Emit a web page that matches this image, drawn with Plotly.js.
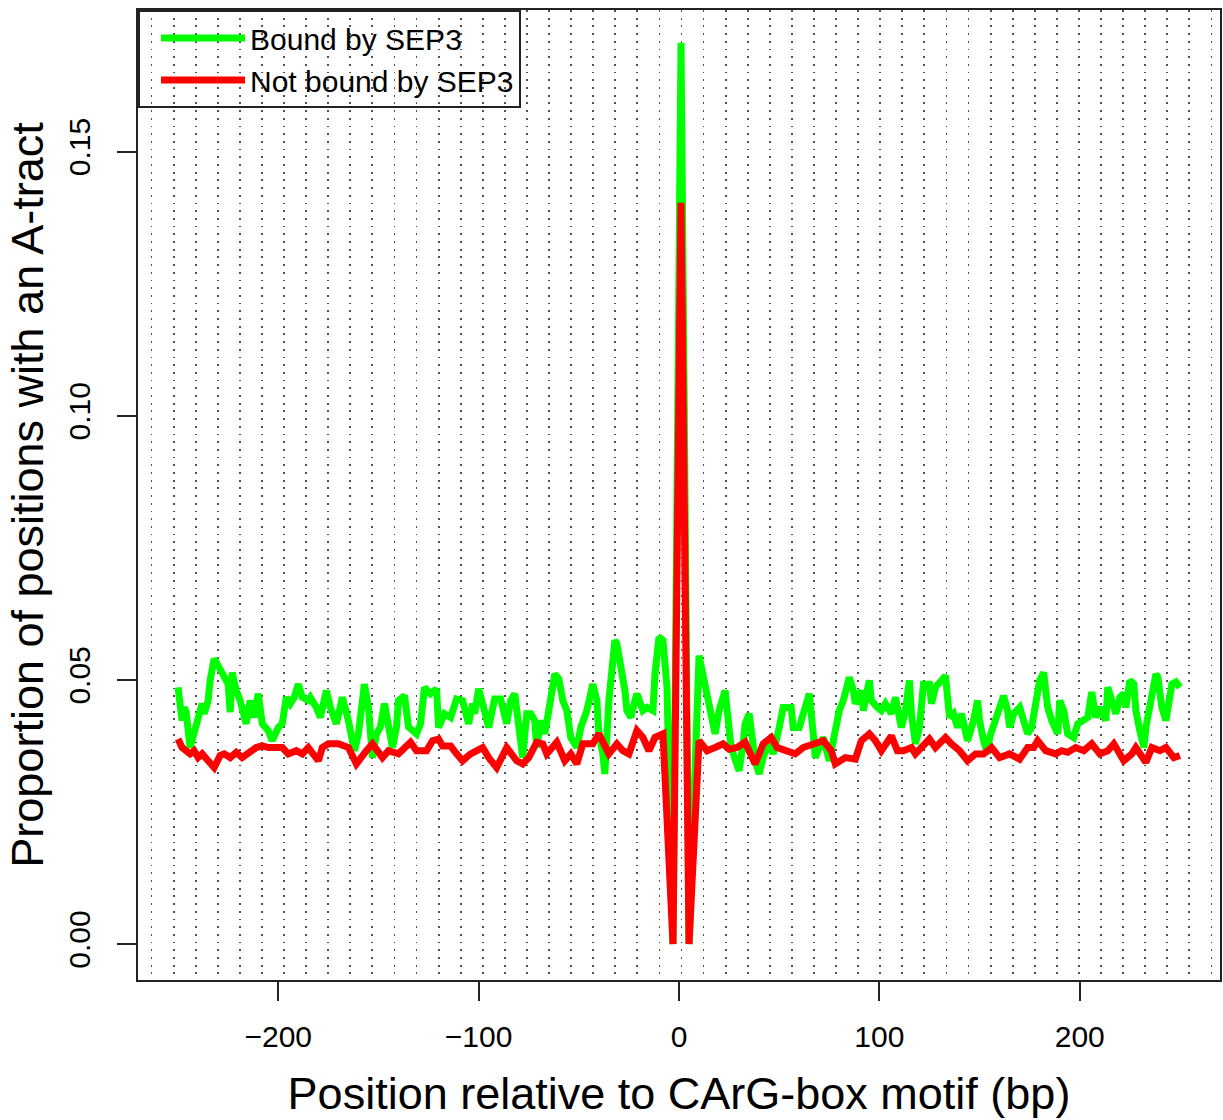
<!DOCTYPE html>
<html>
<head>
<meta charset="utf-8">
<script src="https://cdn.plot.ly/plotly-3.0.1.min.js"></script>
<style>html,body{margin:0;padding:0;background:#fff;}#chart{width:1223px;height:1120px;}</style>
</head>
<body>
<div id="chart"></div>
<script>
// Bound by SEP3 (green)
const boundX = [-250,-248,-247,-246,-244,-242,-240,-238,-237,-235,-234,-232,-231,-229,-227,-225,-224,-223,-221,-219,-216,-214,-212,-210,-208,-205,-203,-200,-198,-196,-194,-192,-190,-188,-185,-184,-181,-179,-176,-174,-171,-168,-165,-162,-160,-157,-155,-153,-151,-149,-147,-145,-143,-141,-140,-137,-135,-131,-129,-127,-124,-121,-120,-117,-114,-111,-108,-105,-103,-102,-100,-98,-96,-95,-92,-89,-86,-84,-82,-80,-78,-76,-74,-72,-71,-69,-67,-65,-62,-60,-58,-56,-54,-51,-49,-46,-43,-41,-40,-38,-37,-35,-32,-31,-29,-27,-26,-24,-22,-21,-18,-16,-13,-12,-10,-8,-6,-3,1,5,10,15,18,20,23,26,28,30,32,33,35,37,38,40,42,45,47,50,52,56,57,60,62,65,67,68,70,72,75,77,80,82,85,87,88,91,92,95,96,99,101,103,106,108,111,113,115,116,118,120,122,125,126,128,131,133,135,137,139,141,144,147,149,150,152,154,155,158,160,162,164,165,167,170,172,174,176,179,180,182,184,186,189,190,192,194,197,199,202,204,206,208,210,213,214,216,218,220,222,223,225,227,228,230,232,233,236,238,239,241,243,246,248,250];
const boundY = [0.0486,0.0423,0.0448,0.0440,0.0372,0.0398,0.0419,0.0455,0.0436,0.0461,0.0499,0.0540,0.0534,0.0518,0.0508,0.0492,0.0439,0.0514,0.0480,0.0461,0.0417,0.0461,0.0429,0.0474,0.0417,0.0404,0.0385,0.0410,0.0417,0.0467,0.0455,0.0467,0.0492,0.0467,0.0461,0.0467,0.0448,0.0429,0.0480,0.0448,0.0417,0.0467,0.0423,0.0366,0.0398,0.0492,0.0448,0.0353,0.0398,0.0411,0.0455,0.0411,0.0372,0.0411,0.0461,0.0470,0.0411,0.0398,0.0417,0.0486,0.0474,0.0483,0.0410,0.0436,0.0429,0.0464,0.0461,0.0417,0.0455,0.0436,0.0483,0.0455,0.0429,0.0410,0.0464,0.0464,0.0417,0.0461,0.0474,0.0410,0.0353,0.0436,0.0436,0.0423,0.0372,0.0423,0.0398,0.0442,0.0511,0.0502,0.0461,0.0442,0.0391,0.0372,0.0410,0.0442,0.0492,0.0461,0.0398,0.0360,0.0322,0.0461,0.0575,0.0568,0.0530,0.0480,0.0442,0.0429,0.0461,0.0474,0.0442,0.0448,0.0442,0.0511,0.0581,0.0575,0.0486,0.0000,0.1706,0.0000,0.0546,0.0461,0.0398,0.0442,0.0480,0.0372,0.0347,0.0328,0.0379,0.0417,0.0436,0.0385,0.0347,0.0322,0.0353,0.0385,0.0360,0.0410,0.0448,0.0448,0.0410,0.0410,0.0436,0.0474,0.0398,0.0353,0.0372,0.0391,0.0347,0.0391,0.0442,0.0461,0.0505,0.0480,0.0455,0.0480,0.0442,0.0499,0.0461,0.0448,0.0442,0.0455,0.0436,0.0467,0.0410,0.0442,0.0499,0.0436,0.0379,0.0410,0.0492,0.0492,0.0455,0.0486,0.0499,0.0508,0.0429,0.0436,0.0410,0.0436,0.0385,0.0423,0.0461,0.0423,0.0385,0.0360,0.0391,0.0423,0.0442,0.0470,0.0442,0.0410,0.0436,0.0448,0.0423,0.0398,0.0410,0.0486,0.0499,0.0514,0.0448,0.0423,0.0398,0.0461,0.0442,0.0398,0.0391,0.0417,0.0423,0.0429,0.0477,0.0429,0.0448,0.0423,0.0486,0.0461,0.0436,0.0467,0.0474,0.0448,0.0499,0.0492,0.0442,0.0404,0.0372,0.0410,0.0467,0.0511,0.0505,0.0448,0.0423,0.0492,0.0496,0.0486,0.0442];

// Not bound by SEP3 (red)
const notX = [-250,-248,-244,-242,-240,-238,-235,-232,-229,-227,-224,-221,-218,-214,-211,-208,-205,-201,-198,-195,-191,-188,-185,-180,-178,-175,-170,-165,-161,-156,-153,-148,-145,-140,-134,-131,-126,-123,-120,-118,-114,-111,-108,-104,-98,-95,-91,-86,-81,-78,-75,-71,-68,-66,-61,-57,-54,-51,-48,-43,-40,-35,-31,-28,-25,-21,-18,-15,-12,-8,-3,1,5,10,14,18,22,25,29,33,36,38,42,46,49,53,58,62,67,72,76,78,83,88,91,95,98,101,106,109,112,116,118,121,125,128,133,136,140,144,148,152,156,160,165,170,174,177,179,183,188,191,194,198,202,206,210,214,217,222,226,228,233,236,240,243,247,250];
const notY = [0.0388,0.0372,0.0360,0.0366,0.0353,0.0360,0.0347,0.0334,0.0357,0.0360,0.0353,0.0363,0.0353,0.0366,0.0372,0.0375,0.0372,0.0372,0.0372,0.0360,0.0366,0.0360,0.0372,0.0347,0.0372,0.0379,0.0379,0.0372,0.0341,0.0366,0.0379,0.0353,0.0366,0.0360,0.0382,0.0366,0.0366,0.0385,0.0388,0.0375,0.0375,0.0360,0.0347,0.0360,0.0372,0.0353,0.0334,0.0372,0.0347,0.0341,0.0353,0.0382,0.0379,0.0360,0.0382,0.0347,0.0360,0.0341,0.0379,0.0379,0.0398,0.0360,0.0379,0.0366,0.0360,0.0404,0.0391,0.0366,0.0391,0.0398,0.0000,0.1403,0.0000,0.0385,0.0366,0.0372,0.0379,0.0369,0.0372,0.0382,0.0353,0.0341,0.0379,0.0391,0.0372,0.0366,0.0360,0.0372,0.0379,0.0385,0.0366,0.0341,0.0353,0.0350,0.0385,0.0398,0.0385,0.0366,0.0394,0.0366,0.0366,0.0372,0.0360,0.0372,0.0388,0.0372,0.0391,0.0379,0.0366,0.0347,0.0360,0.0360,0.0372,0.0353,0.0360,0.0350,0.0372,0.0372,0.0385,0.0366,0.0360,0.0366,0.0363,0.0372,0.0366,0.0379,0.0360,0.0366,0.0379,0.0347,0.0360,0.0372,0.0344,0.0372,0.0366,0.0372,0.0353,0.0357];

const seriesNames = ["Bound by SEP3", "Not bound by SEP3"];
const xTicks = [-200, -100, 0, 100, 200];
const yTicks = [0, 0.05, 0.10, 0.15];

const FONT = "Liberation Sans, Arial, Helvetica, sans-serif";

const traces = [
  {x: boundX, y: boundY, type: "scatter", mode: "lines", name: seriesNames[0],
   line: {color: "#00ff00", width: 7, shape: "linear"}},
  {x: notX, y: notY, type: "scatter", mode: "lines", name: seriesNames[1],
   line: {color: "#ff0000", width: 7, shape: "linear"}}
];

const layout = {
  width: 1223, height: 1120,
  margin: {l: 138, r: 3, t: 10, b: 140},
  paper_bgcolor: "#ffffff", plot_bgcolor: "#ffffff",
  font: {family: FONT, size: 30, color: "#000"},
  showlegend: true,
  legend: {x: 0, y: 1, xanchor: "left", yanchor: "top",
    bgcolor: "rgba(0,0,0,0)", bordercolor: "#222", borderwidth: 2,
    indentation: 16, itemwidth: 84,
    font: {family: FONT, size: 30, color: "#000"}},
  xaxis: {
    range: [-270, 270], tickmode: "array", tickvals: xTicks,
    ticks: "outside", ticklen: 19, tickwidth: 2, tickcolor: "#222",
    ticklabelstandoff: 10,
    showline: true, mirror: true, linecolor: "#222", linewidth: 2,
    showgrid: false, zeroline: false,
    tickfont: {family: FONT, size: 30, color: "#000"},
    title: {text: "Position relative to CArG-box motif (bp)", font: {family: FONT, size: 45, color: "#000"}, standoff: 25},
    minor: {tickmode: "linear", tick0: 1.25, dtick: 11.02, ticks: "", showgrid: true,
      gridcolor: "rgb(80,80,80)", gridwidth: 1.8, griddash: "1.8px,5.9px"}
  },
  yaxis: {
    range: [-0.0068, 0.1768], tickmode: "array", tickvals: yTicks, tickformat: ".2f",
    tickangle: -90,
    ticks: "outside", ticklen: 19, tickwidth: 2, tickcolor: "#222",
    ticklabelstandoff: 15,
    showline: true, mirror: true, linecolor: "#222", linewidth: 2,
    showgrid: false, zeroline: false,
    tickfont: {family: FONT, size: 30, color: "#000"},
    title: {text: "Proportion of positions with an A-tract", font: {family: FONT, size: 45, color: "#000"}, standoff: 5}
  }
};

Plotly.newPlot("chart", traces, layout, {displayModeBar: false, staticPlot: true});
</script>
</body>
</html>
